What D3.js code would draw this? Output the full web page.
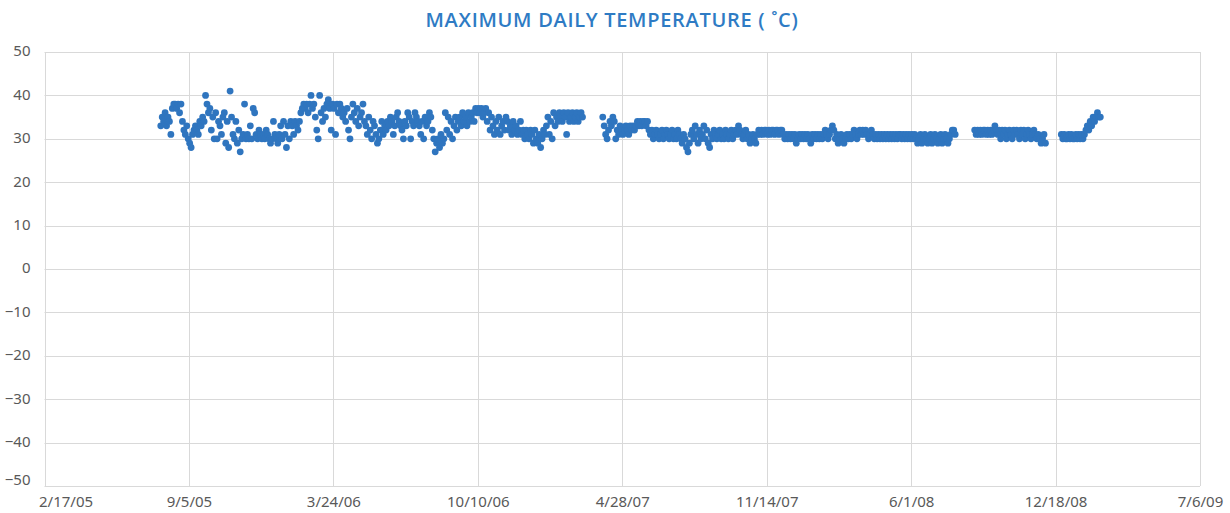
<!DOCTYPE html>
<html>
<head>
<meta charset="utf-8">
<script src="https://cdn.jsdelivr.net/npm/d3@7"></script>
<style>
  body { margin: 0; background: #fff; }
  .tick-label { font-family: "Noto Sans", sans-serif; font-size: 15px; fill: #595959; }
  .title { font-family: "Open Sans", sans-serif; font-weight: 600; font-size: 20px; letter-spacing: 0.7px; fill: #2e7bc4; }
</style>
</head>
<body>
<div class="chart-wrapper"></div>
<script>
// readings, one value every 2 days from each segment start
const segStarts = [Date.UTC(2005, 6, 28), Date.UTC(2007, 3, 1), Date.UTC(2008, 7, 28), Date.UTC(2008, 11, 26)]
const stepDays = 2

const seg2005 = [
  33,35,34,36,33,35,34,31,37,38, 38,37,38,36,38,34,32,31,33,30,
  29,28,31,32,33,32,31,34,33,35, 34,40,38,36,37,32,35,30,36,30,
  34,33,31,35,36,29,34,28,41,35, 31,30,34,29,32,27,30,31,38,30,
  31,30,33,30,37,36,31,30,32,31, 30,31,30,32,31,30,29,30,34,31,
  30,29,31,33,30,34,31,28,33,30, 34,33,31,34,33,32,34,36,37,38,
  37,38,36,38,40,37,38,35,32,30, 40,36,34,37,35,38,39,37,32,38,
  37,31,38,36,38,37,35,36,34,37, 32,30,35,38,36,34,37,33,35,36,
  38,34,33,31,35,32,30,34,33,31, 29,30,32,34,31,33,32,34,33,35,
  34,31,33,35,36,34,33,32,30,34, 33,36,35,30,34,33,36,35,34,33,
  31,34,30,35,33,34,36,35,32,30, 27,29,30,28,31,29,30,36,32,35,
  31,34,30,33,35,32,34,35,33,36, 34,35,33,36,34,35,36,34,37,36,
  37,36,37,35,36,37,34,36,32,35, 33,31,34,32,35,31,33,34,32,35,
  34,32,33,31,34,32,33,31,32,34, 31,32,30,32,31,30,32,31,29,32,
  30,29,31,28,30,32,31,33,35,31, 34,30,36,33,35,34,36,35,34,36,
  35,31,36,34,35,36,34,35,36,34, 35,36,35
]
const seg2007 = [
  35,33,31,30,32,34,33,35,34,30, 32,31,33,32,31,32,33,32,31,33,
  32,33,32,33,34,33,34,33,34,34, 33,34,32,31,32,30,31,32,31,30,
  31,32,30,31,32,31,30,31,32,30, 31,30,32,31,30,29,31,30,28,27,
  29,31,32,30,33,31,29,32,30,31, 33,30,32,29,28,31,30,32,31,30,
  31,32,30,31,30,32,31,30,31,32, 30,31,32,31,33,32,31,30,31,32,
  30,31,29,30,31,30,29,31,32,31, 32,31,32,32,31,32,31,32,32,31,
  32,32,31,32,32,31,30,31,30,31, 30,31,30,31,29,30,31,30,31,30,
  31,30,31,30,29,31,30,31,30,31, 30,31,30,31,32,31,30,31,32,33,
  32,30,31,29,30,31,30,29,30,31, 30,31,30,31,32,31,30,31,32,31,
  32,31,32,31,30,31,32,31,30,31, 30,31,30,31,30,31,30,31,30,31,
  30,31,30,31,30,31,31,30,31,30, 31,30,31,30,31,30,31,30,29,30,
  31,29,30,31,30,29,30,31,29,30, 31,30,29,30,31,29,30,31,30,29,
  30,31,32,32,31
]
const seg2008 = [
  32,31,32,31,32,31,32,32,31,32, 31,32,31,32,33,32,31,32,30,32,
  31,32,30,31,32,31,30,32,31,32, 31,30,32,31,32,30,31,32,31,30,
  31,32,31,30,31,30,29,30,31,29
]
const seg2009 = [
  31,30,31,30,30,31,30,31,30,30, 31,30,31,30,31,30,31,32,33,32,
  34,33,35,34,35,36,35,35
]
const segments = [seg2005, seg2007, seg2008, seg2009]

const yTicks = d3.range(-50, 51, 10)
const xStart = Date.UTC(2005, 1, 17)
const xTickStepDays = 200
const xTicks = d3.range(0, 9).map(i => new Date(xStart + i * xTickStepDays * 864e5))

const title = 'MAXIMUM DAILY TEMPERATURE ( ˚C)'

const width = 1230
const height = 513
const margin = {top: 52, right: 30, bottom: 27, left: 44.5}

const points = []
segments.forEach((seg, s) => {
  seg.forEach((v, i) => {
    points.push({date: new Date(segStarts[s] + i * stepDays * 864e5), value: v})
  })
})

const svg = d3.select('.chart-wrapper').append('svg')
  .attr('width', width)
  .attr('height', height)

const x = d3.scaleUtc()
  .domain([xTicks[0], xTicks[xTicks.length - 1]])
  .range([margin.left, width - margin.right])

const y = d3.scaleLinear()
  .domain([-50, 50])
  .range([height - margin.bottom, margin.top])

const fmt = d => (d.getUTCMonth() + 1) + '/' + d.getUTCDate() + '/' + String(d.getUTCFullYear()).slice(2)

// grid
svg.append('g')
  .selectAll('line')
  .data(yTicks)
  .enter()
  .append('line')
  .attr('x1', margin.left)
  .attr('x2', width - margin.right)
  .attr('y1', d => Math.round(y(d)) + 0.5)
  .attr('y2', d => Math.round(y(d)) + 0.5)
  .attr('stroke', '#d9d9d9')

svg.append('g')
  .selectAll('line')
  .data(xTicks)
  .enter()
  .append('line')
  .attr('x1', d => Math.round(x(d)) + 0.5)
  .attr('x2', d => Math.round(x(d)) + 0.5)
  .attr('y1', margin.top)
  .attr('y2', height - margin.bottom)
  .attr('stroke', '#d9d9d9')

// axes labels
const yAxis = svg.append('g')
  .attr('transform', 'translate(' + (margin.left - 14) + ',-1)')
  .call(d3.axisLeft(y).tickValues(yTicks).tickSize(0).tickPadding(0))
yAxis.select('.domain').remove()
yAxis.selectAll('text').attr('class', 'tick-label').attr('fill', null)
// lowest label sits a bit higher, clear of the date labels
yAxis.selectAll('.tick').filter(d => d === -50).select('text').attr('y', -5)

const xAxis = svg.append('g')
  .attr('transform', 'translate(0,' + (height - margin.bottom) + ')')
  .call(d3.axisBottom(x).tickValues(xTicks).tickFormat(fmt).tickSize(0).tickPadding(10))
xAxis.select('.domain').remove()
xAxis.selectAll('text').attr('class', 'tick-label').attr('fill', null)
// first date label is kept inside the chart, like the original
xAxis.selectAll('.tick').filter((d, i) => i === 0).select('text')
  .attr('text-anchor', 'start').attr('x', -6)

// points
svg.append('g')
  .selectAll('circle')
  .data(points)
  .enter()
  .append('circle')
  .attr('cx', d => x(d.date))
  .attr('cy', d => y(d.value))
  .attr('r', 3.4)
  .attr('fill', '#2f75bf')

svg.append('text')
  .attr('class', 'title')
  .attr('x', 612)
  .attr('y', 27)
  .attr('text-anchor', 'middle')
  .text(title)
</script>
</body>
</html>
